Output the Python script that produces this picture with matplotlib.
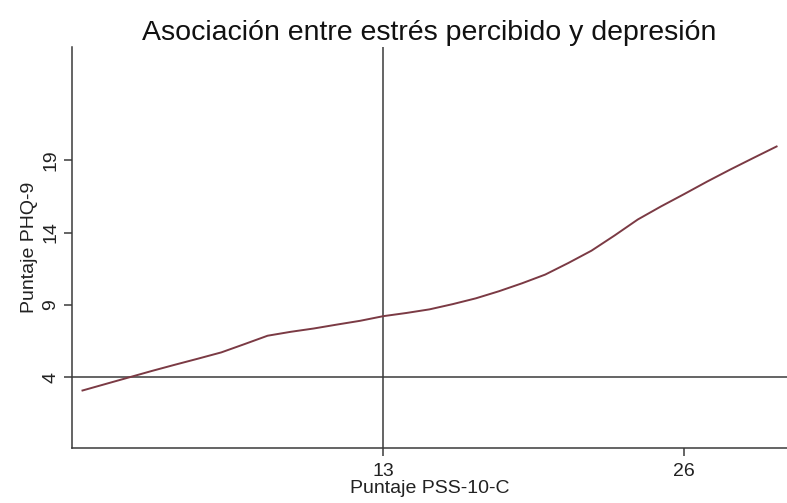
import numpy as np
import matplotlib.pyplot as plt

plt.rcParams['font.family'] = ['Liberation Sans', 'DejaVu Sans']

# smoothed PHQ-9 score against PSS-10-C score
pss = [0, 1, 2, 3, 4, 5, 6, 7, 8, 9, 10, 11, 12, 13, 14, 15,
       16, 17, 18, 19, 20, 21, 22, 23, 24, 25, 26, 27, 28, 29, 30]
phq = [3.10, 3.55, 4.00, 4.45, 4.88, 5.30, 5.73, 6.30, 6.88, 7.15, 7.38,
       7.65, 7.91, 8.23, 8.45, 8.70, 9.06, 9.46, 9.95, 10.50, 11.10,
       11.90, 12.75, 13.80, 14.90, 15.80, 16.65, 17.52, 18.35, 19.15, 19.94]

ref_x = 13
ref_y = 4
xticks = [13, 26]
yticks = [4, 9, 14, 19]

fig = plt.figure(figsize=(7.87, 5.03), dpi=100)
ax = fig.add_axes([0.091, 0.109, 0.909, 0.798])

axis_col = '#3a3a3a'
ax.plot(pss, phq, color='#7b3a44', lw=1.4, zorder=3)
ax.axhline(ref_y, color=axis_col, lw=1.1, zorder=2)
ax.axvline(ref_x, color=axis_col, lw=1.1, zorder=2)

ax.set_xlim(-0.47, 30.45)
ax.set_ylim(-0.88, 26.82)
ax.set_xticks(xticks)
ax.set_yticks(yticks)

for side in ['top', 'right']:
    ax.spines[side].set_visible(False)
for side in ['left', 'bottom']:
    ax.spines[side].set_color(axis_col)
    ax.spines[side].set_linewidth(1.1)

ax.tick_params(axis='both', colors=axis_col, length=6, width=1.1,
               labelsize=14, labelcolor='#222222')
ax.tick_params(axis='x', pad=5)
ax.tick_params(axis='y', pad=3)
for lab in ax.get_yticklabels():
    lab.set_rotation(90)
    lab.set_va('center')

ax.set_xlabel('Puntaje PSS-10-C', fontsize=14, color='#222222', labelpad=0)
ax.set_ylabel('Puntaje PHQ-9', fontsize=14, color='#222222', labelpad=3)
ax.set_title('Asociación entre estrés percibido y depresión',
             fontsize=20.5, color='#111111', pad=5)

fig.savefig('out.png', dpi=100)
plt.close()
